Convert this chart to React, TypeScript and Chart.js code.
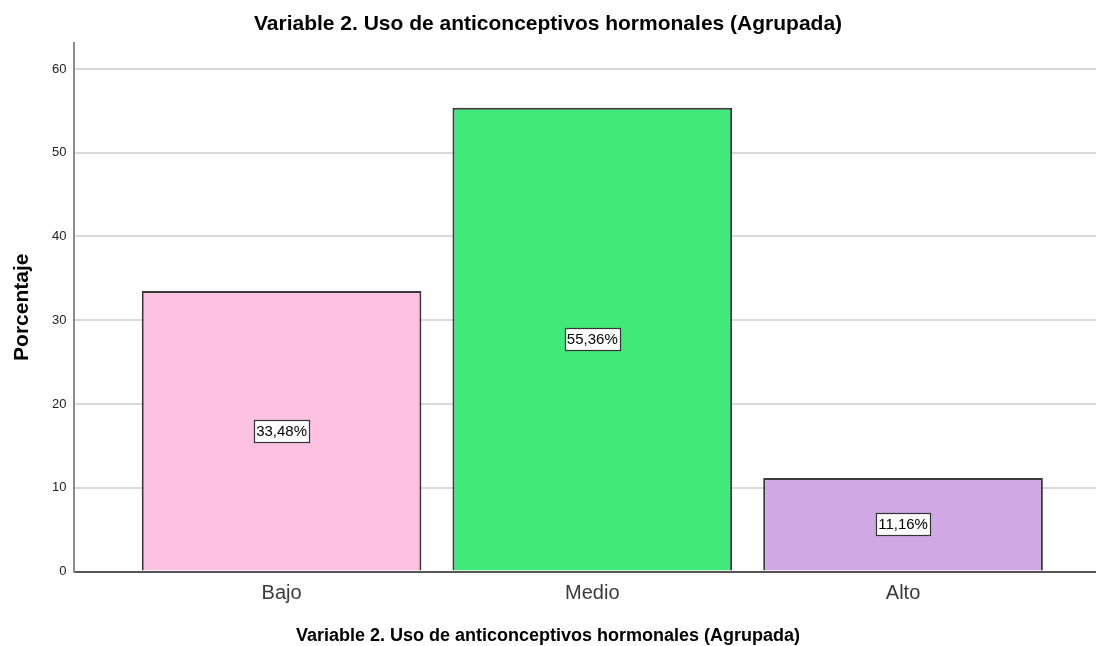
import React, { useEffect, useRef } from 'react';
import { Chart, registerables } from 'chart.js';

Chart.register(...registerables);

const FONT = "'Liberation Sans', Arial, Helvetica, sans-serif";

const categories = ['Bajo', 'Medio', 'Alto'];
const percentages = [33.48, 55.36, 11.16];
const barColors = ['#FDC2E1', '#41E97B', '#D0A9E4'];
const yTicks = [0, 10, 20, 30, 40, 50, 60];
const yMax = 63.1;
const xMin = -0.668;
const xMax = 2.621;
const chartTitle = 'Variable 2. Uso de anticonceptivos hormonales (Agrupada)';
const xTitle = 'Variable 2. Uso de anticonceptivos hormonales (Agrupada)';
const yTitle = 'Porcentaje';

const formatPct = (v: number) => v.toFixed(2).replace('.', ',') + '%';

const valueBoxPlugin = {
  id: 'valueBoxes',
  afterDatasetsDraw(chart: any) {
    const ctx = chart.ctx;
    const meta = chart.getDatasetMeta(0);
    ctx.save();
    ctx.font = `15px ${FONT}`;
    ctx.textAlign = 'center';
    ctx.textBaseline = 'middle';
    meta.data.forEach((bar: any, i: number) => {
      const { x, y, base } = bar.getProps(['x', 'y', 'base'], true);
      const cy = (y + base) / 2;
      const text = formatPct(percentages[i]);
      const w = Math.round(ctx.measureText(text).width + 4);
      const h = 22;
      const bx = Math.round(x - w / 2) + 0.5;
      const by = Math.round(cy - h / 2) + 0.5;
      ctx.fillStyle = '#ffffff';
      ctx.fillRect(bx, by, w, h);
      ctx.strokeStyle = '#333333';
      ctx.lineWidth = 1.2;
      ctx.strokeRect(bx, by, w, h);
      ctx.fillStyle = '#000000';
      ctx.fillText(text, x, cy + 1);
    });
    ctx.restore();
  },
};

export default function App() {
  const canvasRef = useRef<HTMLCanvasElement | null>(null);

  useEffect(() => {
    if (!canvasRef.current) return;
    Chart.defaults.font.family = FONT;
    const chart = new Chart(canvasRef.current, {
      type: 'bar',
      data: {
        datasets: [
          {
            data: percentages.map((v, i) => ({ x: i, y: v })),
            backgroundColor: barColors,
            borderColor: '#3a3a3a',
            borderWidth: 2,
            categoryPercentage: 1,
            barPercentage: 0.9,
          },
        ],
      },
      options: {
        responsive: false,
        animation: false,
        layout: { padding: 0 },
        plugins: {
          legend: { display: false },
          tooltip: { enabled: false },
          title: {
            display: true,
            text: chartTitle,
            color: '#000000',
            font: { size: 21, weight: 'bold' },
            padding: { top: 12, bottom: 5.8 },
          },
          subtitle: {
            display: true,
            position: 'bottom',
            text: xTitle,
            color: '#000000',
            font: { size: 18, weight: 'bold', lineHeight: 1 },
            padding: { top: 20, bottom: 0.5 },
          },
        },
        scales: {
          x: {
            type: 'linear',
            offset: false,
            min: xMin,
            max: xMax,
            afterBuildTicks: (s: any) => {
              s.ticks = categories.map((_, i) => ({ value: i }));
            },
            afterFit: (s: any) => {
              s.height = 36;
            },
            ticks: {
              callback: (v: any) => categories[v] ?? '',
              color: '#3a3a3a',
              font: { size: 20 },
              padding: 9.5,
              autoSkip: false,
              maxRotation: 0,
            },
            grid: { display: false, drawTicks: false, offset: false },
            border: { display: true, color: '#555555', width: 2 },
          },
          y: {
            min: 0,
            max: yMax,
            afterBuildTicks: (s: any) => {
              s.ticks = yTicks.map((v) => ({ value: v }));
            },
            afterFit: (s: any) => {
              s.width = 74;
            },
            ticks: { color: '#222222', font: { size: 13 }, padding: 7.5 },
            grid: { color: '#d9d9d9', lineWidth: 2, drawTicks: false },
            border: { display: true, color: '#8c8c8c', width: 2 },
            title: {
              display: true,
              text: yTitle,
              color: '#000000',
              font: { size: 21, weight: 'bold' },
              padding: { top: 10, bottom: 0 },
            },
          },
        },
      },
      plugins: [valueBoxPlugin],
    } as any);
    return () => chart.destroy();
  }, []);

  return (
    <div style={{ position: 'absolute', left: 0, top: 0, width: 1096, height: 646, background: '#ffffff' }}>
      <canvas ref={canvasRef} width={1096} height={646} />
    </div>
  );
}
